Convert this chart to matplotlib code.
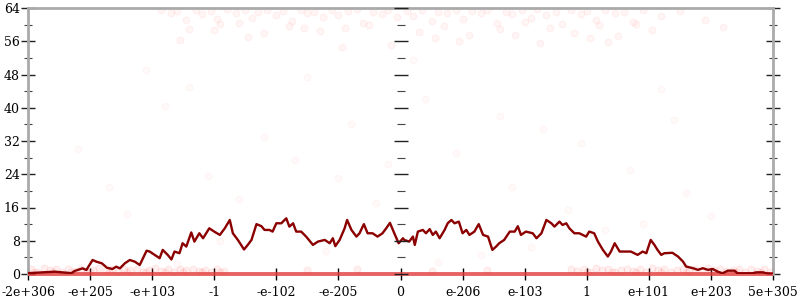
import numpy as np
import matplotlib
matplotlib.use("Agg")
import matplotlib.pyplot as plt
from matplotlib.ticker import MultipleLocator

# x positions are in "tick units": each unit is one labelled tick step
tick_pos = list(range(-6, 7))
tick_labels = ['-2e+306', '-e+205', '-e+103', '-1', '-e-102', '-e-205', '0',
               'e-206', 'e-103', '1', 'e+101', 'e+203', '5e+305']

# running average line
line_x = [-6.0, -5.57, -5.3, -5.25, -5.12, -5.06, -4.96, -4.9, -4.81, -4.73,
          -4.64, -4.58, -4.52, -4.44, -4.36, -4.28, -4.2, -4.17, -4.09, -4.04,
          -3.96, -3.88, -3.83, -3.75, -3.69, -3.64, -3.56, -3.51, -3.45, -3.37,
          -3.32, -3.24, -3.18, -3.08, -3.0, -2.91, -2.83, -2.75, -2.7, -2.62,
          -2.52, -2.46, -2.4, -2.32, -2.24, -2.19, -2.11, -2.06, -2.0, -1.92,
          -1.84, -1.79, -1.73, -1.68, -1.6, -1.52, -1.41, -1.33, -1.22, -1.14,
          -1.09, -1.05, -0.98, -0.9, -0.86, -0.79, -0.71, -0.66, -0.59, -0.53,
          -0.45, -0.37, -0.29, -0.23, -0.17, -0.1, -0.03, 0.04, 0.06, 0.14,
          0.2, 0.23, 0.28, 0.36, 0.41, 0.47, 0.52, 0.57, 0.63, 0.71,
          0.76, 0.82, 0.87, 0.94, 1.0, 1.06, 1.11, 1.19, 1.26, 1.33,
          1.41, 1.48, 1.54, 1.59, 1.67, 1.76, 1.84, 1.89, 1.94, 2.02,
          2.13, 2.19, 2.27, 2.35, 2.43, 2.48, 2.56, 2.61, 2.67, 2.72,
          2.8, 2.88, 2.99, 3.04, 3.12, 3.18, 3.26, 3.34, 3.39, 3.45,
          3.53, 3.61, 3.71, 3.82, 3.9, 3.96, 4.03, 4.09, 4.14, 4.2,
          4.25, 4.38, 4.47, 4.55, 4.6, 4.71, 4.79, 4.87, 4.95, 5.03,
          5.11, 5.19, 5.27, 5.38, 5.43, 5.67, 5.73, 5.84, 5.89, 5.99]
line_y = [0.2, 0.56, 0.2, 0.72, 1.36, 0.96, 3.37, 2.97, 2.57, 1.52,
          1.2, 1.76, 1.36, 2.57, 3.37, 2.97, 2.17, 3.1, 5.6, 5.4,
          4.6, 3.8, 5.8, 4.6, 3.5, 5.4, 5.0, 7.4, 6.6, 10.0,
          7.8, 9.8, 8.6, 11.0, 10.2, 9.4, 11.0, 13.0, 9.8, 8.2,
          5.9, 7.0, 8.2, 12.0, 11.5, 10.6, 10.6, 10.2, 12.2, 12.2,
          13.4, 11.4, 12.2, 10.2, 10.2, 9.0, 7.0, 7.8, 8.2, 7.4,
          8.6, 6.7, 8.2, 11.0, 13.0, 10.6, 9.0, 9.8, 12.0, 9.8,
          9.8, 9.0, 9.8, 11.0, 12.3, 9.8, 7.4, 8.6, 8.2, 7.8,
          9.0, 7.0, 10.2, 10.6, 9.8, 10.8, 9.4, 10.2, 8.6, 10.6,
          12.2, 13.0, 12.2, 12.6, 9.8, 10.6, 9.4, 10.2, 12.0, 9.4,
          9.0, 5.8, 6.6, 7.4, 8.2, 10.2, 10.2, 11.5, 9.4, 10.2,
          9.8, 8.6, 9.8, 13.0, 12.2, 11.4, 12.6, 11.8, 12.2, 11.0,
          9.8, 9.8, 9.0, 10.2, 9.8, 7.8, 5.8, 4.2, 5.4, 7.4,
          5.4, 5.4, 5.4, 4.6, 5.4, 5.0, 8.2, 7.0, 5.8, 4.6,
          5.0, 5.1, 4.2, 3.0, 1.8, 1.4, 1.0, 1.4, 1.0, 1.2,
          0.56, 0.17, 0.8, 0.8, 0.17, 0.17, 0.4, 0.4, 0.17, 0.05]

# individual samples (faint dots)
top_x = [-3.85, -3.7, -3.6, -3.45, -3.3, -3.2, -3.05, -2.9, -2.8, -2.65,
         -2.5, -2.4, -2.3, -2.15, -2.0, -1.9, -1.75, -1.6, -1.5, -1.4,
         -1.25, -1.1, -1.0, -0.85, -0.7, -0.6, -0.45, -0.3, -0.2, -0.05,
         0.1, 0.2, 0.35, 0.5, 0.6, 0.75, 0.9, 1.0, 1.15, 1.3,
         1.4, 1.55, 1.7, 1.8, 1.95, 2.1, 2.2, 2.35, 2.5, 2.6,
         2.75, 2.9, 3.0, 3.15, 3.3, 3.45, 3.6, 3.75, 3.9, 4.2,
         4.5, 4.9, 5.2, -3.4, -3.0, -2.6, -2.2, -1.8, -1.3, -0.9,
         -0.5, 0.3, 0.7, 1.1, 1.6, 2.0, 2.4, 2.8, 3.2, 3.5,
         3.8, 4.05, -2.95, -1.55, 0.55, 1.85, 3.35, -3.55, -2.45, -0.95,
         -0.15, 0.95, 2.25, 3.05]
top_y = [63.5, 62.8, 63.3, 61.0, 63.6, 62.5, 63.2, 60.2, 63.7, 62.9,
         63.4, 61.5, 63.0, 63.6, 62.2, 63.3, 60.8, 63.5, 62.7, 63.1,
         61.9, 63.6, 62.4, 63.2, 63.7, 60.5, 63.0, 62.6, 63.5, 61.8,
         63.3, 62.1, 63.6, 60.9, 63.0, 62.7, 63.5, 61.4, 63.2, 62.8,
         63.6, 60.4, 63.1, 62.5, 63.4, 61.7, 63.7, 62.2, 63.0, 60.1,
         63.5, 62.6, 63.3, 61.2, 63.6, 62.9, 63.1, 60.6, 63.4, 62.0,
         63.2, 61.0, 59.5, 59.0, 58.8, 60.3, 57.9, 59.7, 58.5, 59.2,
         60.0, 58.2, 59.6, 57.6, 58.9, 60.7, 59.3, 58.0, 59.8, 57.3,
         60.2, 58.7, 61.3, 59.1, 56.8, 57.5, 55.9, 56.4, 57.0, 54.6,
         55.2, 56.1, 55.5, 56.7]
mid_x = [-5.2, -4.7, -4.4, -3.8, -3.4, -3.1, -2.6, -2.2, -1.7, -1.2,
         -0.8, -0.4, 0.4, 0.9, 1.3, 1.8, 2.3, 2.7, 3.3, 3.7,
         4.2, 4.6, 5.0, -4.1, -2.9, -1.5, -0.2, 1.6, 2.9, 4.4,
         -3.6, 0.6, 2.1, 3.9, -1.0, 0.2]
mid_y = [30.0, 21.0, 14.5, 40.5, 45.0, 23.5, 18.0, 33.0, 27.5, 5.5,
         36.0, 17.0, 42.0, 29.0, 4.5, 21.0, 35.0, 15.5, 10.5, 25.0,
         44.5, 19.5, 14.0, 49.0, 8.0, 47.5, 26.5, 38.0, 31.5, 37.0,
         2.5, 3.0, 6.5, 12.0, 23.0, 51.5]
low_x = [-5.95, -5.85, -5.75, -5.65, -5.55, -5.45, -5.35, -5.25, -5.15, -5.05,
         -4.95, -4.85, -4.75, -4.65, -4.55, -4.45, -4.35, -4.25, -4.15, -4.05,
         -3.95, -3.85, -3.75, -3.65, -3.55, -3.45, -3.35, -3.25, -3.15, -3.05,
         -2.95, -2.85, -5.9, -5.6, -5.3, -5.0, -4.7, -4.4, -4.1, -3.8,
         -3.5, -3.2, -2.9, 2.75, 2.85, 2.95, 3.05, 3.15, 3.25, 3.35,
         3.45, 3.55, 3.65, 3.75, 3.85, 3.95, 4.05, 4.15, 4.25, 4.35,
         4.45, 4.55, 4.65, 4.75, 4.85, 4.95, 5.05, 5.15, 5.25, 5.35,
         5.45, 5.55, 5.65, 5.75, 5.85, 5.95, 3.0, 3.4, 3.8, 4.2,
         4.6, 5.0, 5.4, 5.8, -1.5, -0.7, 0.5, 1.4]
low_y = [1.2, 0.6, 1.4, 0.9, 1.1, 0.5, 1.3, 0.8, 1.2, 0.6,
         1.0, 1.4, 0.7, 1.1, 0.5, 1.3, 0.9, 1.2, 0.6, 1.0,
         1.4, 0.8, 1.1, 0.5, 1.3, 0.9, 1.2, 0.7, 1.0, 0.6,
         1.1, 0.8, 0.5, 0.4, 0.6, 0.4, 0.5, 0.6, 0.4, 0.5,
         0.4, 0.6, 0.5, 1.3, 0.8, 1.1, 0.6, 1.4, 0.9, 1.2,
         0.5, 1.0, 1.3, 0.7, 1.1, 0.6, 1.4, 0.9, 1.2, 0.5,
         1.0, 1.3, 0.8, 1.1, 0.6, 1.4, 0.9, 1.2, 0.7, 1.0,
         1.3, 0.6, 1.1, 0.8, 1.2, 0.5, 0.4, 0.5, 0.4, 0.6,
         0.4, 0.5, 0.6, 0.4, 0.9, 1.1, 0.8, 1.0]
zero_x = [-6.0, -5.5, -5.0, -4.5, -4.0, -3.5, -3.0, -2.5, -2.0, -1.5, -1.0,
          -0.5, 0.0, 0.5, 1.0, 1.5, 2.0, 2.5, 3.0, 3.5, 4.0, 4.5, 5.0,
          5.5, 6.0]
zero_y = [0.0] * len(zero_x)

plt.rcParams['font.family'] = ['DejaVu Serif']

fig = plt.figure(figsize=(8, 3), dpi=100)
ax = fig.add_axes([28 / 800, 26 / 300, 745 / 800, 266 / 300])

dot_face = (1.0, 0.25, 0.25, 0.05)
dot_edge = (1.0, 0.25, 0.25, 0.06)
for xs, ys, a in [(top_x, top_y, 1.0), (mid_x, mid_y, 0.6), (low_x, low_y, 1.6)]:
    ax.scatter(xs, ys, s=24, facecolor=(1.0, 0.25, 0.25, 0.05 * a),
               edgecolor=(1.0, 0.25, 0.25, 0.06 * a), linewidth=0.8, zorder=2)

ax.plot(zero_x, zero_y, color='#e23c3c', lw=2.8, alpha=0.8, zorder=3,
        solid_capstyle='butt', clip_on=False)
ax.plot(line_x, line_y, color='#8b0000', lw=1.7, zorder=4)

ax.set_xlim(-6, 6)
ax.set_ylim(0, 64)
ax.set_xticks(tick_pos)
ax.set_xticklabels(tick_labels, fontsize=9)
ax.yaxis.set_major_locator(MultipleLocator(8))
ax.yaxis.set_minor_locator(MultipleLocator(4))
ax.tick_params(axis='x', direction='inout', length=9, width=1,
               color='black', pad=4)
ax.tick_params(axis='y', which='major', direction='inout', length=10,
               width=1, color='#222222', labelsize=9, pad=1)
ax.tick_params(axis='y', which='minor', direction='inout', length=6,
               width=0.8, color='#444444')
ax.tick_params(axis='y', which='both', right=True, labelright=False)

for side in ['left', 'right', 'top']:
    ax.spines[side].set_color('#aaaaaa')
    ax.spines[side].set_linewidth(2)
ax.spines['bottom'].set_visible(False)

# center axis through x = 0
ax2 = fig.add_axes(ax.get_position(), frameon=False, sharey=ax)
ax2.set_xlim(-6, 6)
ax2.spines['left'].set_visible(True)
ax2.spines['left'].set_position(('data', 0))
ax2.spines['left'].set_color('black')
ax2.spines['left'].set_linewidth(1)
ax2.set_xticks([])
ax2.tick_params(axis='y', which='major', direction='inout', length=10,
                width=1, color='#222222', labelleft=False)
ax2.tick_params(axis='y', which='minor', direction='inout', length=6,
                width=0.8, color='#444444')

fig.savefig('out.png', dpi=100)
